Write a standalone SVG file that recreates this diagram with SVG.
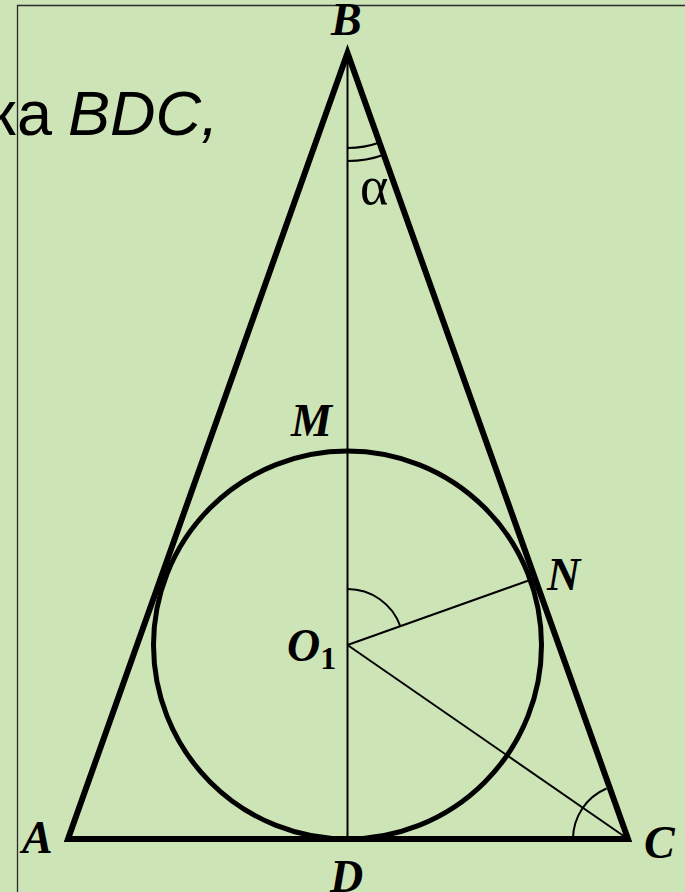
<svg xmlns="http://www.w3.org/2000/svg" width="685" height="892" viewBox="0 0 685 892">
<style>
.lbl{font-family:"Liberation Serif","Times New Roman",serif;font-style:italic;font-weight:bold;font-size:46px;fill:#000}
.thick{fill:none;stroke:#000;stroke-width:6;stroke-linejoin:miter;stroke-miterlimit:20}
.thin{fill:none;stroke:#000;stroke-width:2}
</style>
<rect x="0" y="0" width="685" height="892" fill="#cde4b7"/>
<g id="frame"><path d="M17.5 892 V5.5 H685" fill="none" stroke="#2a2a2a" stroke-width="1.3"/></g>
<g id="caption" font-family="'Liberation Sans',Arial,sans-serif" font-size="63" fill="#000">
<text x="52" y="135" text-anchor="end">ка</text>
<text x="68" y="135" font-style="italic">BDC,</text>
</g>
<g id="connectors">
<line class="thin" x1="347.5" y1="53" x2="347.5" y2="839" stroke-width="2.2"/>
<line class="thin" x1="347.5" y1="645" x2="530" y2="580"/>
<line class="thin" x1="347.5" y1="645" x2="628" y2="839"/>
<path class="thin" d="M347.5 148 A95 95 0 0 0 379.6 142.5"/>
<path class="thin" d="M347.5 161 A108 108 0 0 0 384 154.7"/>
<path class="thin" d="M347.5 589 A56 56 0 0 1 400.3 626.2"/>
<path class="thin" d="M573 839 A55 55 0 0 1 606.5 788.5"/>
</g>
<g id="triangle"><polygon class="thick" points="347.5,53 68,839 628,839"/></g>
<g id="circle"><circle cx="347.5" cy="645" r="194" fill="none" stroke="#000" stroke-width="5"/></g>
<g id="labels">
<text class="lbl" x="331" y="35">B</text>
<text class="lbl" x="291" y="436">M</text>
<text class="lbl" x="547" y="590">N</text>
<text class="lbl" x="287" y="661">O<tspan font-style="normal" font-size="32" dy="8">1</tspan></text>
<text class="lbl" x="22" y="853">A</text>
<text class="lbl" x="644" y="858">C</text>
<text class="lbl" x="330" y="892">D</text>
<text x="360" y="204" font-family="'Liberation Serif','Times New Roman',serif" font-size="54" fill="#000">α</text>
</g>
</svg>
